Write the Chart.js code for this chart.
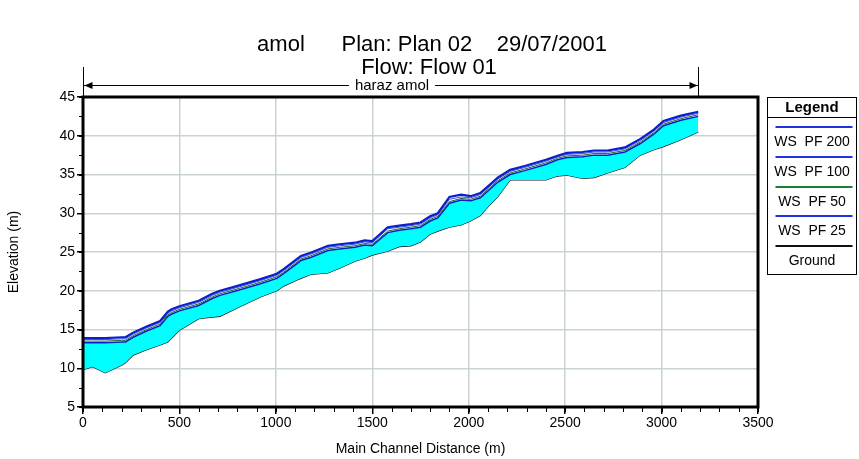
<!DOCTYPE html>
<html>
<head>
<meta charset="utf-8">
<script src="https://cdn.jsdelivr.net/npm/chart.js@4.4.0/dist/chart.umd.min.js"></script>
<style>
  html, body { margin: 0; padding: 0; background: #fff; }
  #wrap { width: 859px; height: 459px; position: relative; }
</style>
</head>
<body>
<div id="wrap"><canvas id="profile"></canvas></div>
<script>
// main channel stations (m) and elevations (m)
const stations = [0, 50, 115, 200, 220, 260, 330, 400, 440, 460, 500, 600, 670, 710, 810,
  920, 1005, 1040, 1110, 1130, 1180, 1270, 1330, 1410, 1460, 1500, 1580, 1640, 1700, 1750,
  1800, 1840, 1900, 1960, 2010, 2060, 2110, 2150, 2215, 2290, 2400, 2460, 2510, 2590, 2650,
  2720, 2810, 2890, 2960, 3010, 3100, 3190];
const ground = [9.8, 10.2, 9.4, 10.4, 10.7, 11.7, 12.4, 13.0, 13.4, 13.9, 14.9, 16.4, 16.6, 16.7, 17.9,
  19.2, 20.0, 20.6, 21.4, 21.6, 22.1, 22.3, 22.9, 23.8, 24.2, 24.6, 25.1, 25.7, 25.8, 26.3,
  27.3, 27.7, 28.2, 28.5, 29.0, 29.7, 31.1, 32.1, 34.3, 34.3, 34.3, 34.8, 34.9, 34.5, 34.6,
  35.2, 35.9, 37.5, 38.2, 38.6, 39.5, 40.5];
const wsPF200 = [13.9, 13.9, 13.9, 14.0, 14.0, 14.6, 15.4, 16.1, 17.3, 17.6, 18.0, 18.7, 19.6, 20.0, 20.7,
  21.5, 22.2, 22.8, 24.1, 24.5, 24.9, 25.8, 26.0, 26.2, 26.5, 26.4, 28.2, 28.4, 28.6, 28.8,
  29.6, 30.0, 32.1, 32.4, 32.2, 32.6, 33.7, 34.6, 35.6, 36.1, 36.9, 37.4, 37.8, 37.9, 38.1,
  38.1, 38.5, 39.6, 40.8, 41.9, 42.6, 43.1];
const wsPF100 = [13.7, 13.7, 13.7, 13.8, 13.8, 14.4, 15.2, 15.9, 17.1, 17.4, 17.8, 18.5, 19.4, 19.8, 20.5,
  21.3, 22.0, 22.6, 23.9, 24.3, 24.7, 25.6, 25.8, 26.0, 26.3, 26.2, 28.0, 28.2, 28.4, 28.6,
  29.4, 29.8, 31.8, 32.1, 32.0, 32.4, 33.5, 34.4, 35.4, 35.9, 36.7, 37.3, 37.6, 37.7, 37.9,
  37.9, 38.3, 39.4, 40.6, 41.7, 42.4, 42.9];
const wsPF50 = [13.5, 13.5, 13.5, 13.6, 13.6, 14.2, 15.0, 15.7, 16.9, 17.2, 17.6, 18.3, 19.2, 19.6, 20.3,
  21.1, 21.8, 22.4, 23.7, 24.1, 24.5, 25.4, 25.6, 25.8, 26.1, 26.0, 27.7, 28.0, 28.2, 28.4,
  29.2, 29.6, 31.5, 31.9, 31.8, 32.2, 33.3, 34.2, 35.2, 35.7, 36.5, 37.1, 37.4, 37.5, 37.7,
  37.7, 38.1, 39.2, 40.4, 41.5, 42.2, 42.7];
const wsPF25 = [13.3, 13.3, 13.3, 13.4, 13.4, 14.0, 14.8, 15.5, 16.7, 17.0, 17.4, 18.1, 19.0, 19.4, 20.1,
  20.9, 21.6, 22.2, 23.5, 23.9, 24.3, 25.2, 25.4, 25.6, 25.9, 25.8, 27.5, 27.8, 28.0, 28.2,
  29.0, 29.4, 31.3, 31.7, 31.6, 32.0, 33.1, 34.0, 35.0, 35.5, 36.3, 36.9, 37.2, 37.3, 37.5,
  37.5, 37.9, 39.0, 40.2, 41.3, 42.0, 42.5];

const titleLines = ["amol      Plan: Plan 02    29/07/2001", "Flow: Flow 01"];
const reachName = "haraz amol";
const reachStart = 0;
const reachEnd = 3190;
const legendNames = ["WS  PF 200", "WS  PF 100", "WS  PF 50", "WS  PF 25", "Ground"];
const legendColors = ["#1d33e0", "#1d33e0", "#1f7a36", "#1d33e0", "#111111"];

const FONT = "'Liberation Sans', Arial, sans-serif";
const toPoints = (ys) => stations.map((x, i) => ({ x: x, y: ys[i] }));

const hecPlugin = {
  id: "hecras",
  beforeDraw(chart) {
    const ctx = chart.ctx;
    ctx.save();
    ctx.fillStyle = "#fff";
    ctx.fillRect(0, 0, chart.width, chart.height);
    ctx.restore();
  },
  afterDraw(chart) {
    const ctx = chart.ctx;
    const area = chart.chartArea;
    const xs = chart.scales.x;
    const ys = chart.scales.y;
    ctx.save();

    // minor ticks
    ctx.strokeStyle = "#000";
    ctx.lineWidth = 1;
    ctx.beginPath();
    for (let v = 0; v <= 3500; v += 100) {
      const px = Math.round(xs.getPixelForValue(v)) + 0.5;
      ctx.moveTo(px, area.bottom);
      ctx.lineTo(px, area.bottom + 5);
    }
    for (let v = 5; v <= 45; v += 2.5) {
      const py = Math.round(ys.getPixelForValue(v)) + 0.5;
      ctx.moveTo(area.left - 4, py);
      ctx.lineTo(area.left, py);
    }
    ctx.stroke();

    // plot frame
    ctx.lineWidth = 3;
    ctx.strokeRect(area.left, area.top, area.right - area.left, area.bottom - area.top);

    // title
    ctx.fillStyle = "#000";
    ctx.textAlign = "center";
    ctx.textBaseline = "middle";
    ctx.font = "22px " + FONT;
    ctx.fillText(titleLines[0], 432, 45);
    ctx.fillText(titleLines[1], 429, 68);

    // reach annotation
    const x0 = Math.round(xs.getPixelForValue(reachStart)) + 0.5;
    const x1 = Math.round(xs.getPixelForValue(reachEnd)) + 0.5;
    const ay = 85.5;
    ctx.lineWidth = 1;
    ctx.beginPath();
    ctx.moveTo(x0, 67); ctx.lineTo(x0, area.top);
    ctx.moveTo(x1, 67); ctx.lineTo(x1, area.top);
    ctx.moveTo(x0, ay); ctx.lineTo(x1, ay);
    ctx.stroke();
    ctx.beginPath();
    ctx.moveTo(x0 + 1, ay); ctx.lineTo(x0 + 9, ay - 3.5); ctx.lineTo(x0 + 9, ay + 3.5); ctx.closePath();
    ctx.moveTo(x1 - 1, ay); ctx.lineTo(x1 - 9, ay - 3.5); ctx.lineTo(x1 - 9, ay + 3.5); ctx.closePath();
    ctx.fill();
    ctx.font = "15px " + FONT;
    const lx = 392;
    const tw = ctx.measureText(reachName).width;
    ctx.fillStyle = "#fff";
    ctx.fillRect(lx - tw / 2 - 6, ay - 8, tw + 12, 16);
    ctx.fillStyle = "#000";
    ctx.fillText(reachName, lx, ay);

    // legend box
    const bl = 767.5, bt = 97.5, bw = 89, bh = 177;
    ctx.lineWidth = 1;
    ctx.strokeStyle = "#000";
    ctx.strokeRect(bl, bt, bw, bh);
    ctx.beginPath();
    ctx.moveTo(bl, 117.5); ctx.lineTo(bl + bw, 117.5);
    ctx.stroke();
    ctx.font = "bold 15px " + FONT;
    ctx.fillText("Legend", bl + bw / 2, 107.5);
    ctx.font = "14px " + FONT;
    legendNames.forEach((name, i) => {
      const ly = Math.round(127 + i * 29.8);
      ctx.strokeStyle = legendColors[i];
      ctx.lineWidth = 2;
      ctx.beginPath();
      ctx.moveTo(bl + 8, ly); ctx.lineTo(bl + bw - 4, ly);
      ctx.stroke();
      ctx.fillStyle = "#000";
      ctx.fillText(name, bl + bw / 2, ly + 15);
    });
    ctx.restore();
  }
};

const data = {
  datasets: [
    { label: legendNames[0], data: toPoints(wsPF200), borderColor: "#0d1fc9", borderWidth: 2.2, fill: false },
    { label: legendNames[1], data: toPoints(wsPF100), borderColor: "#3a4ff0", borderWidth: 1, fill: false },
    { label: legendNames[2], data: toPoints(wsPF50), borderColor: "#1d6630", borderWidth: 1, fill: false },
    { label: legendNames[3], data: toPoints(wsPF25), borderColor: "#0d1fc9", borderWidth: 1.5,
      fill: "+1", backgroundColor: "#00ffff" },
    { label: legendNames[4], data: toPoints(ground), borderColor: "#111111", borderWidth: 1.2, fill: false }
  ]
};

const config = {
  type: "line",
  data: data,
  options: {
    responsive: true,
    maintainAspectRatio: false,
    animation: false,
    devicePixelRatio: 1,
    layout: { padding: { top: 97, right: 101, bottom: 0, left: 0 } },
    elements: { point: { radius: 0 }, line: { tension: 0 } },
    plugins: { legend: { display: false }, tooltip: { enabled: false }, title: { display: false } },
    scales: {
      x: {
        type: "linear",
        min: 0, max: 3500,
        ticks: { stepSize: 500, color: "#000", font: { family: FONT, size: 14 }, padding: 1, maxRotation: 0,
          callback: (v) => String(v) },
        grid: { color: "#c9d3cf", lineWidth: 1.5, tickLength: 7, tickColor: "#000" },
        border: { display: false },
        title: { display: true, text: "Main Channel Distance (m)", color: "#000",
          font: { family: FONT, size: 14 }, padding: { top: 0, bottom: 1 } },
        afterFit(scale) { scale.height = 52; }
      },
      y: {
        min: 5, max: 45,
        ticks: { stepSize: 5, color: "#000", font: { family: FONT, size: 14 }, padding: 2,
          callback: (v) => String(v) },
        grid: { color: "#c9d3cf", lineWidth: 1.5, tickLength: 6, tickColor: "#000" },
        border: { display: false },
        title: { display: true, text: "Elevation (m)", color: "#000",
          font: { family: FONT, size: 14 }, padding: { top: 6, bottom: 0 } },
        afterFit(scale) { scale.width = 83; }
      }
    }
  },
  plugins: [hecPlugin]
};

const profileChart = new Chart(document.getElementById("profile"), config);
</script>
</body>
</html>
